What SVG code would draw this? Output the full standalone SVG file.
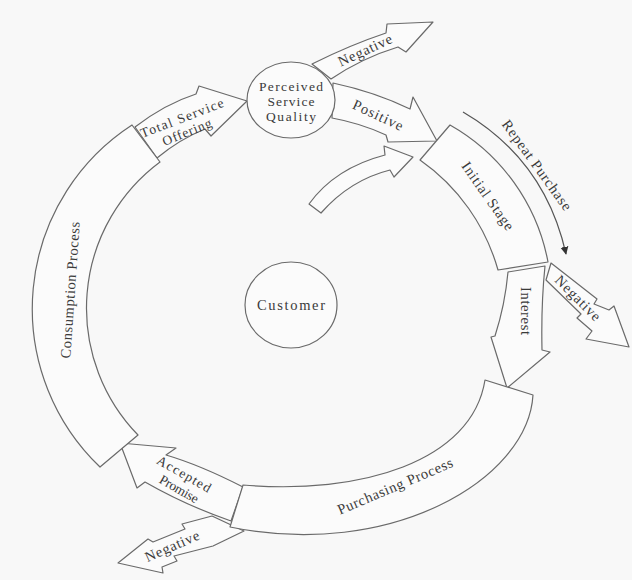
<svg xmlns="http://www.w3.org/2000/svg" width="632" height="580" viewBox="0 0 632 580">
<style>
.s{fill:#fbfbfb;stroke:#6a6a6a;stroke-width:1.2;stroke-linejoin:round}
.t{font-family:"Liberation Serif","Times New Roman",serif;font-size:14.5px;fill:#3a3a3a;text-anchor:middle;dominant-baseline:central}
.sm{font-size:13.5px}
.ln{fill:none;stroke:#555;stroke-width:1.2}
</style>
<defs>
<marker id="ah" viewBox="0 0 10 10" refX="9" refY="5" markerWidth="8" markerHeight="10" markerUnits="userSpaceOnUse" orient="auto">
<path d="M0,0 L10,5 L0,10 Z" fill="#333"/>
</marker>
</defs>
<rect width="632" height="580" fill="#f8f8f8"/>
<g id="connectors">
<g id="arrow-total-service">
<path class="s" d="M135,127 Q165,104 196,94 L199,86 L247,101 L211,136 L205,129 Q180,139 157,158 Z"/>
<text class="t sm" transform="translate(182,118) rotate(-21)" textLength="88">Total Service</text>
<text class="t sm" transform="translate(187,132) rotate(-22)" textLength="52">Offering</text>
</g>
<g id="arrow-negative-top">
<path class="s" d="M312,64 Q350,45 386,33 L387,24 L433,22 L406,52 L398,47 Q362,58 331,79 Z"/>
<text class="t" transform="translate(365,50) rotate(-25)" textLength="58">Negative</text>
</g>
<g id="arrow-positive">
<path class="s" d="M333,83 Q375,92 410,109 L413,97 L437,141 L388,142 L386,135 Q360,123 332,118 Z"/>
<text class="t" transform="translate(378,115) rotate(25)" textLength="54">Positive</text>
</g>
<g id="arrow-inner">
<path class="s" d="M309,204 Q335,168 385,155 L384,146 L413,157 L394,177 L390,170 Q350,180 321,213 Z"/>
</g>
<g id="arrow-repeat">
<path class="ln" d="M463,112 Q545,160 566,254" marker-end="url(#ah)"/>
<text class="t" transform="translate(537,165) rotate(54)" textLength="108">Repeat Purchase</text>
</g>
<g id="arrow-interest">
<path class="s" d="M508,272 Q505,305 495,336 L491,337 L507,388 L550,352 L542,350 Q541,305 545,266 Z"/>
<text class="t" transform="translate(526,311) rotate(90)" textLength="48">Interest</text>
</g>
<g id="arrow-negative-right">
<path class="s" d="M551,263 L597,299 L594,304 L609,310 L614,306 L629,347 L586,339 L592,331 L577,318 L581,314 L546,280 Z"/>
<text class="t" transform="translate(578,298) rotate(45)" textLength="58">Negative</text>
</g>
<g id="arrow-accepted">
<path class="s" d="M243,487 Q200,465 166,455 L176,448 L120,443 L137,488 L145,482 Q185,505 231,521 Z"/>
<text class="t sm" transform="translate(184,474) rotate(30)" textLength="60">Accepted</text>
<text class="t sm" transform="translate(179,489) rotate(30)" textLength="43">Promise</text>
</g>
<g id="arrow-negative-bottom">
<path class="s" d="M212,516 L182,524 L185,529 L153,542 L148,539 L118,563 L163,573 L162,567 L177,561 L174,556 L213,546 L244,531 Z"/>
<text class="t" transform="translate(172,546) rotate(-24)" textLength="58">Negative</text>
</g>
</g>
<g id="consumption-process">
<path class="s" d="M132,125 L160,162 A182 182 0 0 0 138,435 L100,467 A219 219 0 0 1 132,125 Z"/>
<text class="t" transform="translate(70,290) rotate(-86)" textLength="137">Consumption Process</text>
</g>
<g id="initial-stage">
<path class="s" d="M450,125 A200 200 0 0 1 548,262 L498,270 A200 200 0 0 0 420,160 Z"/>
<text class="t" transform="translate(488,196) rotate(55)" textLength="80">Initial Stage</text>
</g>
<g id="purchasing-process">
<path class="s" d="M485,380 L533,395 C528,480 390,560 230,527 L243,485 C360,495 472,462 485,380 Z"/>
<text class="t" transform="translate(395,486) rotate(-23)" textLength="124">Purchasing Process</text>
</g>
<g id="perceived-service-quality">
<ellipse class="s" cx="291" cy="100" rx="44" ry="38"/>
<text class="t sm" x="291" y="86" textLength="64">Perceived</text>
<text class="t sm" x="291" y="101" textLength="47">Service</text>
<text class="t sm" x="291" y="116" textLength="50">Quality</text>
</g>
<g id="customer">
<ellipse class="s" cx="291" cy="305" rx="46" ry="43"/>
<text class="t" x="291" y="305" textLength="68">Customer</text>
</g>
</svg>
